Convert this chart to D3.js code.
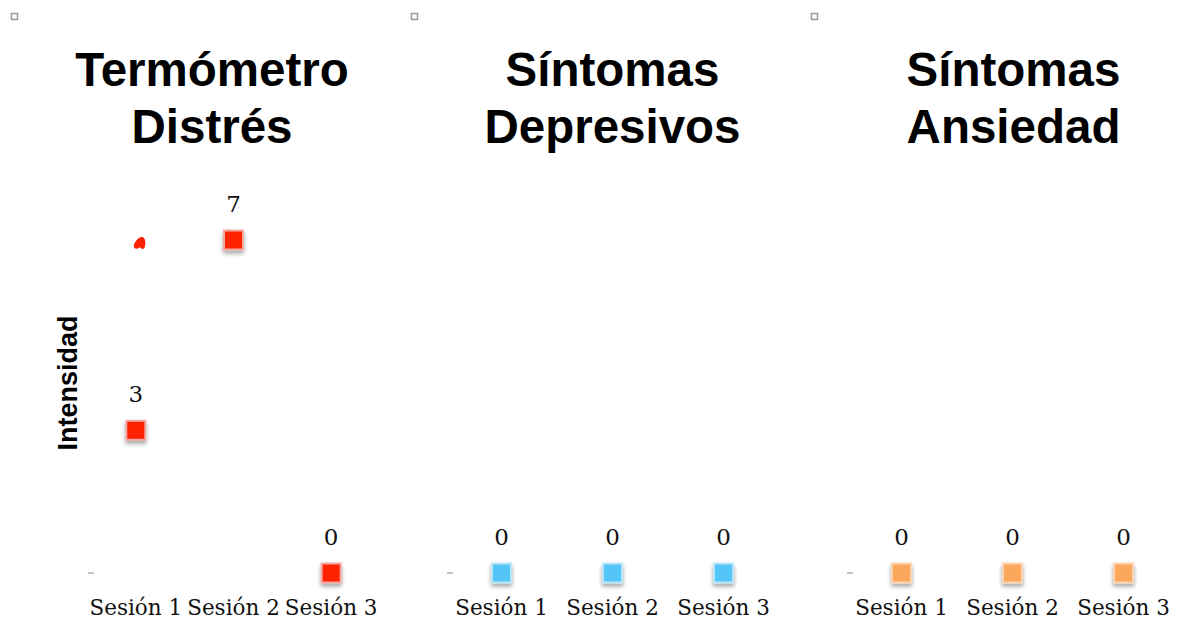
<!DOCTYPE html>
<html>
<head>
<meta charset="utf-8">
<script src="https://cdn.jsdelivr.net/npm/d3@7"></script>
<style>
  html, body { margin: 0; padding: 0; background: #fff; }
  svg { display: block; }
</style>
</head>
<body>
<svg id="chart" width="1177" height="621"></svg>
<script>
// Sessions shown on every panel
const sessions = ["Sesión 1", "Sesión 2", "Sesión 3"];

// Panel titles (two lines each)
const titles = [
  ["Termómetro", "Distrés"],
  ["Síntomas", "Depresivos"],
  ["Síntomas", "Ansiedad"]
];

// Scores per session
const distressValues = [3, 7, 0];
const depressionValues = [0, 0, 0];
const anxietyValues = [0, 0, 0];

// Marker colours per panel
const fills = ["#ff2200", "#52c5f9", "#fba85c"];
const borders = ["#f2a9a3", "#b9e6f7", "#fcd3b0"];

const yLabel = "Intensidad";

const panels = [
  { title: titles[0], values: distressValues, fill: fills[0], border: borders[0], range: [87, 380], left: 0 },
  { title: titles[1], values: depressionValues, fill: fills[1], border: borders[1], range: [446, 779], left: 400 },
  { title: titles[2], values: anxietyValues, fill: fills[2], border: borders[2], range: [846, 1179], left: 800 }
];

const svg = d3.select("#chart");

// Soft drop shadow under each marker
const defs = svg.append("defs");
const f = defs.append("filter").attr("id", "shadow")
  .attr("x", "-50%").attr("y", "-50%").attr("width", "200%").attr("height", "220%");
f.append("feDropShadow").attr("dx", 0).attr("dy", 3).attr("stdDeviation", 2)
  .attr("flood-color", "#000").attr("flood-opacity", 0.35);

// Shared vertical scale
const y = d3.scaleLinear().domain([0, 7]).range([573, 240]);
const markerSize = 19;

panels.forEach((p, i) => {
  const g = svg.append("g");
  const x = d3.scaleBand().domain(sessions).range(p.range);
  const cx = s => x(s) + x.bandwidth() / 2;

  // small placeholder square in the panel corner
  g.append("rect")
    .attr("x", p.left + 11.5).attr("y", 13.5)
    .attr("width", 6).attr("height", 6)
    .attr("fill", "#fff").attr("stroke", "#9a9a9a").attr("stroke-width", 1.5);

  // title
  const t = g.append("text")
    .attr("text-anchor", "middle")
    .attr("font-family", "'Liberation Sans', Arial, sans-serif")
    .attr("font-weight", "bold")
    .attr("font-size", 47.5)
    .attr("fill", "#000");
  const titleX = i === 0 ? 212 : (p.range[0] + p.range[1]) / 2 + (i === 2 ? 1 : 0);
  p.title.forEach((line, k) => {
    t.append("tspan")
      .attr("x", titleX)
      .attr("y", 86 + k * 57)
      .text(line);
  });

  // x axis labels only (no domain line, no ticks)
  const xAxis = d3.axisBottom(x).tickSize(0).tickPadding(0);
  const ax = g.append("g")
    .attr("transform", "translate(0, 615)")
    .call(xAxis);
  ax.select(".domain").remove();
  ax.selectAll("text")
    .attr("dy", 0)
    .attr("font-family", "'DejaVu Serif', serif")
    .attr("font-size", 21.5)
    .attr("fill", "#111");

  // baseline tick mark at zero
  g.append("line")
    .attr("x1", p.range[0] + 1).attr("x2", p.range[0] + 7)
    .attr("y1", y(0)).attr("y2", y(0))
    .attr("stroke", "#8a8a8a").attr("stroke-width", 1);

  // markers
  g.selectAll("rect.marker")
    .data(p.values)
    .join("rect")
    .attr("class", "marker")
    .attr("x", (d, j) => cx(sessions[j]) - markerSize / 2)
    .attr("y", d => y(d) - markerSize / 2)
    .attr("width", markerSize).attr("height", markerSize)
    .attr("fill", p.fill)
    .attr("stroke", p.border).attr("stroke-width", 2)
    .attr("filter", "url(#shadow)");

  // value labels
  g.selectAll("text.value")
    .data(p.values)
    .join("text")
    .attr("class", "value")
    .attr("x", (d, j) => cx(sessions[j]))
    .attr("y", d => y(d) - 28)
    .attr("text-anchor", "middle")
    .attr("font-family", "'DejaVu Serif', serif")
    .attr("font-size", 23)
    .attr("fill", "#111")
    .text(d => d);

  if (i === 0) {
    // small stray red stroke near the first session
    const bx = cx(sessions[0]) + 4;
    const by = y(distressValues[1]) + 3;
    g.append("path")
      .attr("d", `M${bx - 6},${by + 3}
                  C${bx - 6},${by - 1} ${bx - 1},${by - 6} ${bx + 2},${by - 6}
                  C${bx + 6},${by - 6} ${bx + 6},${by + 1} ${bx + 5},${by + 4}
                  C${bx + 4},${by + 7} ${bx + 1},${by + 6} ${bx},${by + 4}
                  C${bx - 1},${by + 6} ${bx - 6},${by + 7} ${bx - 6},${by + 3}Z`)
      .attr("fill", "#ff2200");

    // y axis title
    g.append("text")
      .attr("transform", `translate(77, 383) rotate(-90)`)
      .attr("text-anchor", "middle")
      .attr("font-family", "'Liberation Sans', Arial, sans-serif")
      .attr("font-weight", "bold")
      .attr("font-size", 27)
      .attr("fill", "#000")
      .text(yLabel);
  }
});
</script>
</body>
</html>
